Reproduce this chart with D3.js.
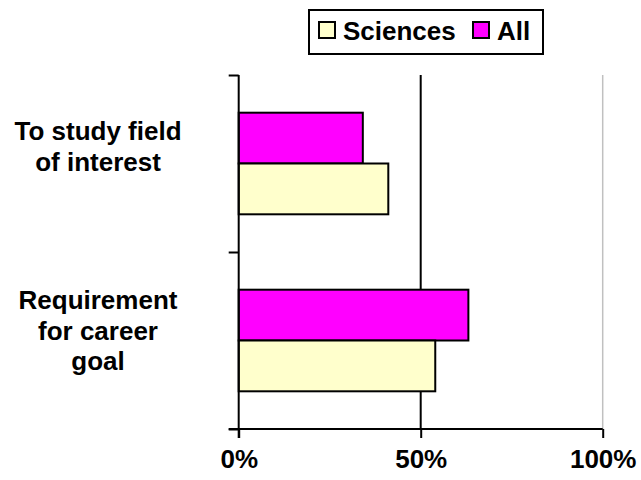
<!DOCTYPE html>
<html>
<head>
<meta charset="utf-8">
<script src="https://cdn.jsdelivr.net/npm/d3@7"></script>
<style>
  body { margin: 0; background: #fff; }
  text { font-family: "Liberation Sans", Arial, sans-serif; font-weight: bold; fill: #000; }
</style>
</head>
<body>
<svg></svg>
<script>
let categories = ['To study field of interest', 'Requirement for career goal']
let labelLines = [['To study field', 'of interest'], ['Requirement', 'for career', 'goal']]
let seriesNames = ['Sciences', 'All']
let sciences = [0.411, 0.540]
let all = [0.341, 0.631]
let xTicks = [0, 0.5, 1]

let width = 641
let height = 480
let plotLeft = 238.7
let plotRight = 602.7
let plotTop = 75
let plotBottom = 429
let fontSize = '26px'

let colors = { 'Sciences': '#ffffcc', 'All': '#ff00ff' }

let svg = d3.select('svg').attr('width', width).attr('height', height)

let xScale = d3.scaleLinear().domain([0, 1]).range([plotLeft, plotRight])
let yScale = d3.scaleBand().domain(categories).range([plotTop, plotBottom])
let subScale = d3.scaleBand().domain(['All', 'Sciences'])
  .range([0, yScale.bandwidth()])
  .paddingInner(0)
  .paddingOuter(0.742)

// gridlines
svg.append('line')
  .attr('x1', xScale(1)).attr('x2', xScale(1))
  .attr('y1', plotTop).attr('y2', plotBottom)
  .attr('stroke', '#c0c0c0').attr('stroke-width', 1.5)

svg.append('line')
  .attr('x1', xScale(0.5)).attr('x2', xScale(0.5))
  .attr('y1', plotTop).attr('y2', plotBottom)
  .attr('stroke', '#000').attr('stroke-width', 2)

// bars
let rows = []
categories.forEach((c, i) => {
  rows.push({ cat: c, series: 'All', value: all[i] })
  rows.push({ cat: c, series: 'Sciences', value: sciences[i] })
})

svg.selectAll('rect.bar')
  .data(rows)
  .enter()
  .append('rect')
  .attr('class', 'bar')
  .attr('x', xScale(0))
  .attr('y', (d) => yScale(d.cat) + subScale(d.series))
  .attr('width', (d) => xScale(d.value) - xScale(0))
  .attr('height', subScale.bandwidth())
  .attr('fill', (d) => colors[d.series])
  .attr('stroke', '#000')
  .attr('stroke-width', 2)

// axes
let xAxis = d3.axisBottom(xScale)
  .tickValues(xTicks)
  .tickFormat(d3.format('.0%'))
  .tickSizeInner(9)
  .tickSizeOuter(0)
  .tickPadding(12)

let gx = svg.append('g')
  .attr('transform', 'translate(0,' + plotBottom + ')')
  .call(xAxis)
gx.select('.domain').attr('stroke', '#000').attr('stroke-width', 2)
  .attr('d', 'M' + (plotLeft - 10) + ',0H' + plotRight)
gx.selectAll('.tick line').attr('stroke', '#000').attr('stroke-width', 2)
gx.selectAll('.tick text').style('font-size', fontSize).attr('font-family', null)

let yLinear = d3.scaleLinear().domain([0, categories.length]).range([plotTop, plotBottom])
let yAxis = d3.axisLeft(yLinear)
  .tickValues(d3.range(categories.length + 1))
  .tickFormat('')
  .tickSizeInner(10)
  .tickSizeOuter(0)

let gy = svg.append('g')
  .attr('transform', 'translate(' + plotLeft + ',0)')
  .call(yAxis)
gy.select('.domain').attr('stroke', '#000').attr('stroke-width', 2)
  .attr('d', 'M0,' + plotTop + 'V' + (plotBottom + 9))
gy.selectAll('.tick line').attr('stroke', '#000').attr('stroke-width', 2)

// category labels
let labelShift = [-17, -10]
let lineHeight = 30.5
categories.forEach((c, i) => {
  let lines = labelLines[i]
  let mid = yScale(c) + yScale.bandwidth() / 2 + labelShift[i]
  let first = mid - (lines.length - 1) * lineHeight / 2 + 9
  let t = svg.append('text')
    .attr('text-anchor', 'middle')
    .style('font-size', fontSize)
  lines.forEach((l, j) => {
    t.append('tspan').attr('x', 98).attr('y', first + j * lineHeight).text(l)
  })
})

// legend
let legend = svg.append('g')
legend.append('rect')
  .attr('x', 309).attr('y', 10).attr('width', 234).attr('height', 44)
  .attr('fill', '#fff').attr('stroke', '#000').attr('stroke-width', 2)

let legendX = [319, 473]
seriesNames.forEach((s, i) => {
  legend.append('rect')
    .attr('x', legendX[i]).attr('y', 22).attr('width', 16).attr('height', 16)
    .attr('fill', colors[s]).attr('stroke', '#000').attr('stroke-width', 2)
  legend.append('text')
    .attr('x', legendX[i] + 24).attr('y', 40)
    .style('font-size', fontSize)
    .text(s)
})
</script>
</body>
</html>
